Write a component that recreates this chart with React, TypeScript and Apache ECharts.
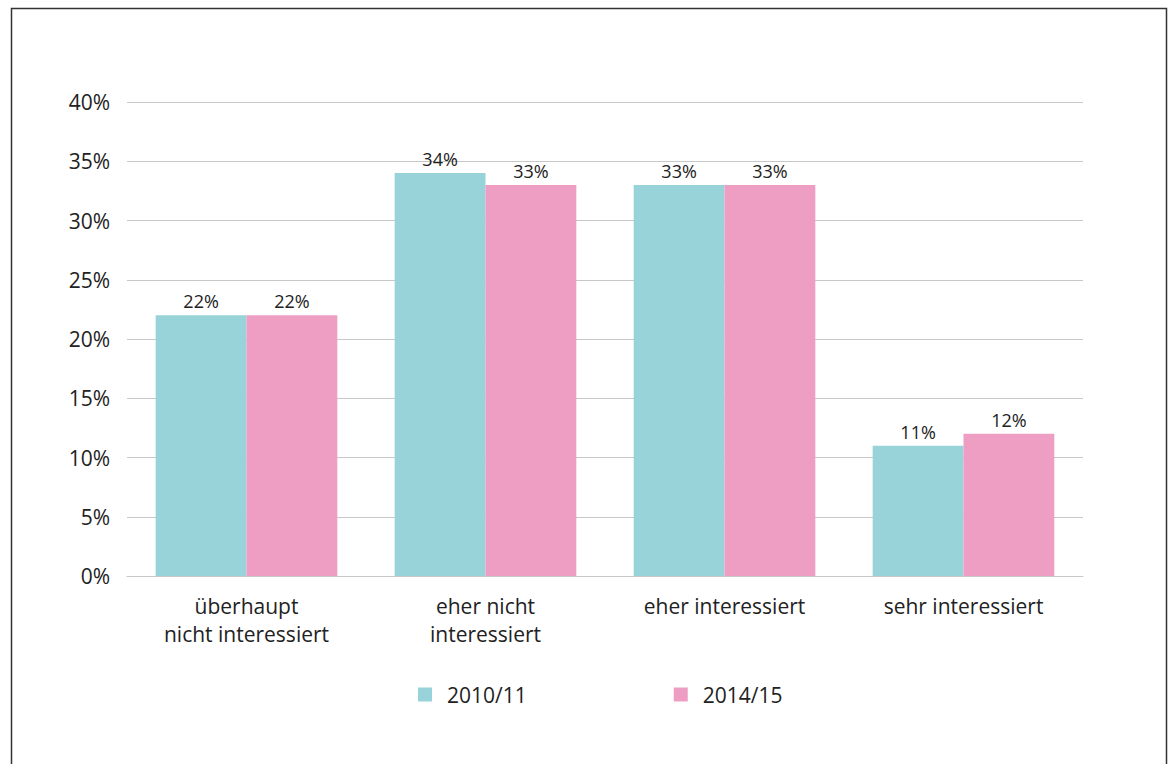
import React, { useEffect, useRef } from "react";
import * as echarts from "echarts";

const categories = ["überhaupt\nnicht interessiert", "eher nicht\ninteressiert", "eher interessiert", "sehr interessiert"];
const seriesNames = ["2010/11", "2014/15"];
const values2010 = [22, 34, 33, 11];
const values2014 = [22, 33, 33, 12];
const colors = ["#97d3d9", "#ee9ec3"];
const FONT = "'Open Sans', 'Noto Sans', sans-serif";

export default function App() {
  const ref = useRef<HTMLDivElement>(null);
  useEffect(() => {
    if (!ref.current) return;
    const chart = echarts.init(ref.current, null, { renderer: "svg" });
    const label = {
      show: true,
      position: "top" as const,
      distance: 5,
      color: "#222",
      fontSize: 18,
      fontFamily: FONT,
      formatter: (p: any) => p.value + "%",
    };
    chart.setOption({
      animation: false,
      backgroundColor: "#fff",
      textStyle: { fontFamily: FONT },
      graphic: [
        {
          type: "rect",
          shape: { x: 11.5, y: 8.5, width: 1155, height: 800 },
          style: { fill: "none", stroke: "#333", lineWidth: 1.5 },
          silent: true,
        },
      ],
      legend: {
        data: seriesNames,
        left: 418,
        top: 684,
        padding: 0,
        itemWidth: 14,
        itemHeight: 14,
        itemGap: 147,
        icon: "rect",
        textStyle: { fontSize: 21, color: "#222", fontFamily: FONT, padding: [0, 0, 0, 10] },
      },
      grid: { left: 127, right: 90, top: 102, bottom: 188, containLabel: false },
      xAxis: {
        type: "category",
        data: categories,
        axisLine: { lineStyle: { color: "#c8c8c8", width: 1 } },
        axisTick: { show: false },
        axisLabel: { color: "#222", fontSize: 21, fontFamily: FONT, margin: 16, lineHeight: 28, interval: 0 },
      },
      yAxis: {
        type: "value",
        min: 0,
        max: 40,
        interval: 5,
        axisLine: { show: false },
        axisTick: { show: false },
        splitLine: { lineStyle: { color: "#c8c8c8", width: 1 } },
        axisLabel: { color: "#222", fontSize: 21, fontFamily: FONT, margin: 17, formatter: "{value}%" },
      },
      series: [
        {
          name: seriesNames[0],
          type: "bar",
          data: values2010,
          itemStyle: { color: colors[0] },
          barGap: "0%",
          barCategoryGap: "24%",
          label,
        },
        {
          name: seriesNames[1],
          type: "bar",
          data: values2014,
          itemStyle: { color: colors[1] },
          barGap: "0%",
          barCategoryGap: "24%",
          label,
        },
      ],
    });
    return () => chart.dispose();
  }, []);
  return <div ref={ref} style={{ position: "fixed", left: 0, top: 0, width: 1173, height: 764 }} />;
}
